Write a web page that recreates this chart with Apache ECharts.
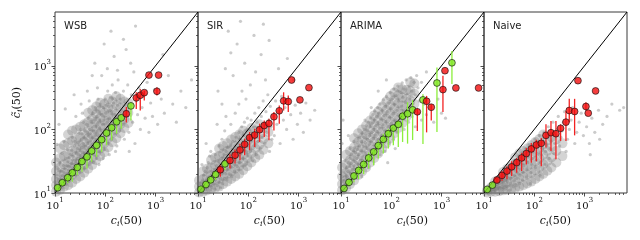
<!DOCTYPE html>
<html><head><meta charset="utf-8">
<script src="https://cdn.jsdelivr.net/npm/echarts@6/dist/echarts.min.js"></script>
<style>html,body{margin:0;padding:0;background:#fff}#c{width:640px;height:240px}</style>
</head><body><div id="c"></div>
<script>
// ---------- data ----------
const panelNames = ['WSB', 'SIR', 'ARIMA', 'Naive'];
const axisRange = [10, 7000];
const majorTicks = [10, 100, 1000];
const minorTicks = [20,30,40,50,60,70,80,90,200,300,400,500,600,700,800,900,2000,3000,4000,5000,6000];
const diagonal = [10, 7000];

// binned medians with error bars (1 = green, 0 = red)
const wsbX = [11.3,14.0,17.9,22.1,27.8,34.4,43.3,53.6,67.3,84.7,106,134,168,208,262,324,414,497,597,740,1067,1151];
const wsbY = [12.1,14.5,17.4,20.8,25.2,31.3,37.0,45.8,56.2,69.0,87.7,106,132,152,176,234,313,344,378,714,397,714];
const wsbLo = [11.0,12.9,14.2,15.0,19.1,21.5,24.3,30.9,37.0,44.3,56.2,67.3,85.5,102,128,138,210,198,284,null,340,null];
const wsbHi = [12.6,15.6,19.1,22.9,27.4,34.8,39.3,49.9,63.4,75.9,96.4,123,142,176,224,267,383,432,406,null,458,null];
const wsbGreen = [1,1,1,1,1,1,1,1,1,1,1,1,1,1,0,1,0,0,0,0,0,0];

const sirX = [11.5,14.4,17.9,22.4,27.8,34.4,43.3,54.5,68.4,84.7,106,134,168,208,258,324,414,505,625,728,1067,1611];
const sirY = [11.5,13.6,16.1,19.6,23.2,28.7,32.4,39.3,47.5,58.3,74.1,81.5,98.9,115,124,158,196,281,274,597,291,453];
const sirLo = [null,12.5,13.8,16.0,18.0,22.9,24.3,29.1,32.8,39.3,47.0,53.0,63.4,75.9,67.3,96.4,123,198,187,null,null,null];
const sirHi = [null,15.0,18.0,21.5,27.4,30.9,40.6,48.1,59.7,71.4,90.8,102,123,138,147,187,237,383,340,null,null,null];
const sirGreen = [1,1,1,1,0,1,0,0,0,0,0,0,0,0,0,0,0,0,0,0,0,0];

const arimaX = [11.5,14.4,18.1,22.4,28.2,35.5,44.7,55.2,69.5,87.3,110,138,168,211,266,330,427,505,625,811,1067,1170,1611,1932,5458];
const arimaY = [11.8,14.7,18.5,22.6,28.1,35.6,44.3,55.6,69.8,85.5,105,120,161,176,203,189,291,277,223,536,422,836,1114,448,448];
const arimaLo = [null,12.6,14.7,16.6,19.8,24.3,27.4,34.8,41.7,49.9,56.2,53.0,63.4,59.7,68.1,94.2,59.0,89.7,138,90.8,187,null,518,null,null];
const arimaHi = [null,16.0,21.0,26.7,32.8,43.2,49.9,67.3,85.5,102,116,138,187,267,287,215,356,336,249,942,698,null,1714,null,null];
const arimaGreen = [1,1,1,1,1,1,1,1,1,1,1,1,1,1,1,0,1,0,0,1,0,0,1,0,0];

const naiveX = [11.6,14.7,18.1,22.8,28.6,35.5,44.7,56.1,69.5,87.3,110,138,171,215,270,334,427,497,635,740,1067,1186,1660];
const naiveY = [11.4,13.3,16.0,18.9,22.1,25.8,30.1,35.6,41.7,49.3,56.9,60.4,80.5,88.7,85.5,104,130,198,191,583,229,180,402];
const naiveLo = [null,null,14.8,15.4,16.4,18.5,20.8,22.1,28.1,29.8,31.6,26.4,51.8,45.8,34.0,65.8,65.8,130,80.5,null,198,null,null];
const naiveHi = [null,null,17.4,22.1,26.4,31.6,35.6,42.7,51.1,61.1,69.0,73.3,120,135,135,120,195,302,302,null,267,null,null];
const naiveGreen = [1,1,0,0,0,0,0,0,0,0,0,0,0,0,0,0,0,0,0,0,0,0,0];

// grey cloud of individual regions: dense core, [c_i(50), c~_i(50)]
const wsbCore = [
[10.5,10.5],[10.5,13.2],[10.5,16.6],[10.5,21.9],[10.5,30.2],
[12.6,11.2],[12.6,14.5],[12.6,19.1],[12.6,25.1],[12.6,35.5],[12.6,50.1],
[15.1,12.6],[15.1,15.8],[15.1,20.9],[15.1,28.2],[15.1,38.0],[15.1,56.2],
[18.2,13.2],[18.2,17.4],[18.2,22.9],[18.2,30.2],[18.2,41.7],[18.2,60.3],[18.2,83.2],
[21.9,14.5],[21.9,19.1],[21.9,25.1],[21.9,33.1],[21.9,45.7],[21.9,66.1],[21.9,95.5],
[26.3,16.6],[26.3,21.9],[26.3,28.8],[26.3,38.0],[26.3,50.1],[26.3,69.2],[26.3,100],
[31.6,18.2],[31.6,24.0],[31.6,31.6],[31.6,41.7],[31.6,56.2],[31.6,75.9],[31.6,110],
[38.0,20.9],[38.0,27.5],[38.0,36.3],[38.0,47.9],[38.0,63.1],[38.0,85.1],[38.0,120],
[45.7,24.0],[45.7,31.6],[45.7,41.7],[45.7,55.0],[45.7,72.4],[45.7,95.5],[45.7,132],[45.7,182],
[55.0,27.5],[55.0,36.3],[55.0,47.9],[55.0,63.1],[55.0,83.2],[55.0,110],[55.0,145],[55.0,200],
[66.1,33.1],[66.1,43.7],[66.1,57.5],[66.1,75.9],[66.1,100],[66.1,132],[66.1,174],[66.1,229],
[79.4,38.0],[79.4,50.1],[79.4,66.1],[79.4,87.1],[79.4,115],[79.4,151],[79.4,200],[79.4,263],
[95.5,43.7],[95.5,60.3],[95.5,79.4],[95.5,105],[95.5,138],[95.5,182],[95.5,251],
[115,52.5],[115,72.4],[115,95.5],[115,126],[115,166],[115,219],[115,302],
[138,63.1],[138,87.1],[138,115],[138,151],[138,200],[138,275],
[166,72.4],[166,100],[166,132],[166,174],[166,240],[166,331],
[200,87.1],[200,120],[200,158],[200,219],[200,302],
[240,105],[240,145],[240,200],[240,275],
[288,126],[288,182],[288,263]
];
const sirCore = [
[10.5,10.2],[10.5,12.6],[10.5,15.8],
[12.6,10.5],[12.6,13.2],[12.6,16.6],[12.6,21.9],
[15.1,11.0],[15.1,13.8],[15.1,18.2],[15.1,24.0],
[18.2,11.5],[18.2,14.8],[18.2,19.1],[18.2,25.1],[18.2,33.1],
[21.9,12.0],[21.9,15.8],[21.9,20.9],[21.9,27.5],[21.9,36.3],
[26.3,12.6],[26.3,16.6],[26.3,21.9],[26.3,28.8],[26.3,38.0],[26.3,50.1],
[31.6,13.8],[31.6,18.2],[31.6,24.0],[31.6,31.6],[31.6,41.7],[31.6,55.0],
[38.0,15.1],[38.0,20.0],[38.0,26.3],[38.0,34.7],[38.0,45.7],[38.0,60.3],
[45.7,16.6],[45.7,21.9],[45.7,28.8],[45.7,38.0],[45.7,50.1],[45.7,69.2],
[55.0,18.2],[55.0,24.0],[55.0,31.6],[55.0,41.7],[55.0,55.0],[55.0,75.9],
[66.1,20.0],[66.1,26.3],[66.1,34.7],[66.1,45.7],[66.1,60.3],[66.1,83.2],
[79.4,22.9],[79.4,30.2],[79.4,39.8],[79.4,52.5],[79.4,69.2],[79.4,95.5],
[95.5,26.3],[95.5,35.5],[95.5,47.9],[95.5,63.1],[95.5,87.1],
[115,30.2],[115,41.7],[115,56.2],[115,75.9],[115,105],
[138,35.5],[138,50.1],[138,69.2],[138,95.5],
[166,39.8],[166,57.5],[166,83.2],[166,120],
[200,47.9],[200,70.8],[200,105],
[251,60.3],[251,91.2]
];
const arimaCore = [
[10.5,11.0],[10.5,13.8],[10.5,18.2],[10.5,25.1],
[12.6,12.0],[12.6,15.8],[12.6,20.9],[12.6,28.8],[12.6,39.8],
[15.1,13.8],[15.1,18.2],[15.1,24.0],[15.1,33.1],[15.1,45.7],
[18.2,15.8],[18.2,20.9],[18.2,27.5],[18.2,38.0],[18.2,52.5],[18.2,72.4],
[21.9,19.1],[21.9,25.1],[21.9,33.1],[21.9,45.7],[21.9,63.1],[21.9,87.1],
[26.3,21.9],[26.3,28.8],[26.3,38.9],[26.3,52.5],[26.3,72.4],[26.3,100],
[31.6,25.1],[31.6,33.9],[31.6,45.7],[31.6,61.7],[31.6,83.2],[31.6,115],
[38.0,30.2],[38.0,40.7],[38.0,55.0],[38.0,74.1],[38.0,100],[38.0,138],
[45.7,35.5],[45.7,47.9],[45.7,64.6],[45.7,87.1],[45.7,120],[45.7,166],
[55.0,41.7],[55.0,56.2],[55.0,75.9],[55.0,102],[55.0,138],[55.0,191],
[66.1,50.1],[66.1,67.6],[66.1,91.2],[66.1,123],[66.1,166],[66.1,229],
[79.4,60.3],[79.4,81.3],[79.4,110],[79.4,148],[79.4,200],[79.4,275],
[95.5,72.4],[95.5,97.7],[95.5,132],[95.5,178],[95.5,240],[95.5,331],
[115,87.1],[115,117],[115,158],[115,214],[115,288],[115,380],
[138,105],[138,141],[138,191],[138,257],[138,347],[138,457],
[166,126],[166,174],[166,234],[166,316],[166,427],
[200,158],[200,219],[200,302],[200,417],
[240,200],[240,282],[240,398],[240,550],
[288,251],[288,363],[288,525]
];
const naiveCore = [
[11.5,10.2],[11.5,11.0],
[13.8,10.5],[13.8,12.3],
[16.6,10.5],[16.6,12.6],[16.6,15.1],
[20.0,10.7],[20.0,13.2],[20.0,16.2],
[24.0,11.0],[24.0,13.8],[24.0,17.4],[24.0,21.4],
[28.8,11.2],[28.8,14.5],[28.8,18.6],[28.8,24.0],
[34.7,11.5],[34.7,15.1],[34.7,20.0],[34.7,26.3],
[41.7,12.0],[41.7,15.8],[41.7,21.4],[41.7,28.8],[41.7,36.3],
[50.1,12.6],[50.1,17.0],[50.1,22.9],[50.1,30.9],[50.1,41.7],
[60.3,13.2],[60.3,18.2],[60.3,24.5],[60.3,33.1],[60.3,45.7],
[72.4,14.1],[72.4,19.5],[72.4,26.3],[72.4,36.3],[72.4,50.1],
[87.1,15.1],[87.1,20.9],[87.1,28.8],[87.1,39.8],[87.1,56.2],
[105,16.6],[105,22.9],[105,31.6],[105,43.7],[105,63.1],
[126,18.2],[126,25.1],[126,35.5],[126,50.1],[126,70.8],
[151,20.0],[151,28.2],[151,39.8],[151,57.5],[151,83.2],
[182,22.4],[182,31.6],[182,45.7],[182,66.1],
[219,25.1],[219,36.3],[219,52.5],[219,75.9],
[275,30.2],[275,45.7],[275,69.2],
[363,38.0],[363,60.3]
];

// grey cloud: scattered individual regions, [c_i(50), c~_i(50)]
const wsbCloud = [
[10.3,10.5],[10.8,11.5],[11.2,10.4],[11.6,12.8],[10.5,13.5],[12.2,11.6],[12.5,14.2],[11.8,15.8],[13.2,13],[13.6,16.5],[12.8,18.5],[10.9,17],[14.5,14],[14.2,19],[13.5,22],[15.5,16.5],[15.2,21],[11.5,24],[16.5,18.5],[16,24],[14.8,27],[17.5,20.5],[17,27],[12.5,30],[18.5,23],[18,31],[16.2,35],[19.5,26],[13.8,42],[19,36],[11,58],[15,65],[17.5,48],[12,120],[16,210],[19.8,18.5],[18.6,15],[14,12],[16.8,13.5],[19,16.5],
[20.5,22],[21,29],[20,40],[22,25],[22.5,33],[21.5,47],[23.5,20],[24,28],[23,38],[24.5,55],[22,75],[25.5,31],[26,24],[26.5,42],[25,65],[27.5,35],[28,50],[27,29],[29,23],[29.5,40],[28.5,62],[30,85],[31,33],[31.5,46],[32,28],[30.5,57],[33,39],[33.5,70],[32.5,100],[34,52],[35,30],[35.5,44],[36,60],[34.5,85],[37,37],[37.5,75],[38,50],[36.5,130],[39,42],[39.5,95],[38.5,25],[26,160],[33,250],[24,350],[35,180],
[41,55],[42,70],[40.5,35],[43,45],[44,90],[42.5,120],[45,60],[46,38],[47,78],[45.5,150],[48,52],[49,100],[50,30],[51,66],[52,135],[50.5,85],[53,45],[54,58],[55,110],[56,75],[57,180],[58,40],[59,95],[60,62],[61,140],[62,50],[63,80],[64,220],[65,110],[66,70],[67,35],[68,160],[69,95],[70,58],[71,125],[72,300],[73,80],[74,45],[75,190],[76,105],[77,65],[78,140],[79,250],[44,400],[55,700],[62,1100],[48,280],[70,450],[58,30],[75,28],
[82,95],[84,60],[86,170],[88,120],[90,75],[92,220],[94,140],[96,48],[98,100],[100,300],[103,180],[106,85],[109,130],[112,400],[115,60],[118,230],[121,150],[124,100],[127,320],[130,70],[134,190],[138,500],[142,120],[146,260],[150,85],[155,170],[160,380],[165,130],[170,55],[175,240],[180,600],[186,160],[192,95],[198,300],[85,700],[95,2200],[110,900],[130,3500],[150,1400],[175,850],[120,40],[160,45],[90,35],[140,300],[105,240],[125,200],
[210,200],[220,120],[230,400],[240,70],[250,260],[265,160],[280,500],[295,90],[310,220],[330,350],[350,130],[370,800],[390,60],[410,280],[440,170],[470,450],[500,100],[540,220],[580,330],[620,150],[680,550],[740,90],[800,260],[870,160],[950,420],[260,1800],[320,1100],[230,2600],[400,4200],[300,45],
[1100,120],[1300,300],[1500,180],[1800,700],[2200,250],[2600,130],[3200,400],[4000,220],[5200,600],[1400,1500]
];
const sirCloud = [
[10.3,10.2],[10.8,11],[11.3,10.5],[11.8,12],[12,10.8],[12.6,11.5],[12.8,13.5],[13.4,12.2],[13.8,14.8],[14.2,11.2],[14.6,13],[15,16.5],[15.5,12],[16,14.5],[16.4,18],[16.8,11],[17.3,15.5],[17.8,13],[18.2,19],[18.6,16],[19.2,12],[19.6,21],[11,14],[12.4,16],[13,19],[14,22],[15.2,25],[16,30],[17,38],[12,28],[18,45],[14.5,60],
[20.3,14],[20.8,18],[21.4,23],[21.8,11.5],[22.4,16],[23,20],[23.5,27],[24,13],[24.6,18],[25.2,24],[25.8,31],[26.3,15],[27,21],[27.5,28],[28,12],[28.6,17],[29.2,25],[29.8,35],[30.5,20],[31,14],[31.6,29],[32.2,23],[33,40],[33.6,17],[34.2,26],[35,32],[35.6,20],[36.2,45],[37,28],[37.6,16],[38.2,36],[39,24],[39.6,52],[22,40],[26,55],[30,70],[34,95],[24,120],[36,160],
[41,30],[42,20],[43,40],[44,55],[45,26],[46,35],[47,18],[48,48],[49,65],[50,30],[51.5,40],[53,22],[54.5,55],[56,33],[57.5,75],[59,45],[60.5,26],[62,60],[63.5,38],[65,90],[66.5,50],[68,30],[70,70],[72,42],[74,110],[76,55],[78,35],[80,80],[82,48],[84,130],[86,62],[88,28],[90,95],[92,45],[94,70],[96,150],[98,38],[45,120],[55,180],[65,250],[75,400],[50,700],[85,1100],[60,2200],[40,3500],[70,5000],[90,300],
[103,60],[106,100],[110,45],[114,140],[118,75],[122,32],[126,110],[130,55],[135,180],[140,85],[145,40],[150,130],[156,65],[162,220],[168,95],[175,50],[182,160],[190,75],[198,280],[206,120],[215,60],[225,190],[235,90],[245,350],[255,140],[265,45],[275,230],[285,110],[295,70],[110,500],[140,800],[180,1500],[220,600],[260,2500],[130,3000],[200,4500],
[310,160],[330,80],[350,280],[370,120],[400,190],[430,60],[460,330],[500,140],[540,220],[580,100],[640,300],[700,170],[780,70],[860,240],[950,120],[1100,180],[1250,90],[1400,260],[1700,140],[2100,200],[400,900],[600,1300],[800,600],[25,400],[35,900],[45,1600],[30,250]
];
const arimaCloud = [
[10.3,11],[10.6,13],[11,15],[10.8,18],[11.4,12],[11.8,16],[12,21],[12.3,14],[12.7,19],[13,25],[13.3,17],[13.7,22],[14,30],[14.4,16],[14.8,26],[15.2,35],[15.6,20],[16,29],[16.4,40],[16.8,23],[17.2,33],[17.6,46],[18,27],[18.4,38],[18.8,52],[19.2,31],[19.6,43],[12,32],[15,50],[18,65],[10.5,60],[11,140],[14,80],
[20.5,35],[21,48],[21.5,62],[22,28],[22.6,40],[23.2,55],[23.8,75],[24.4,33],[25,46],[25.6,64],[26.2,88],[27,38],[27.6,54],[28.2,75],[29,100],[29.8,44],[30.5,62],[31.2,85],[32,115],[33,50],[33.8,70],[34.6,95],[35.5,130],[36.4,57],[37.3,80],[38.2,110],[39,150],[40,64],[41,90],[42,125],[43,170],[44,72],[45,100],[46,140],[47,195],[48,82],[49,115],[26,18],[35,25],[45,35],[30,140],[40,220],
[51,160],[52,92],[53,220],[54,128],[55,70],[56,180],[58,105],[60,250],[62,145],[64,80],[66,200],[68,118],[70,290],[72,165],[74,95],[76,230],[78,135],[80,330],[83,190],[86,110],[89,260],[92,155],[95,380],[98,215],[101,125],[104,300],[108,175],[112,430],[116,245],[120,140],[125,340],[130,200],[135,480],[140,280],[145,160],[60,40],[75,45],[90,60],[110,70],[130,90],[85,30],[120,50],[55,400],[80,600],
[155,380],[160,230],[165,540],[170,320],[175,190],[182,430],[190,270],[198,600],[206,360],[215,220],[225,480],[235,300],[245,650],[258,400],[270,250],[285,550],[300,350],[320,700],[340,450],[360,280],[180,100],[220,130],[260,160],[300,110],[350,180],[400,140],[450,250],[500,170],[600,220],[700,130],[850,300],[1000,180],[1200,150],[400,550],[500,800]
];
const naiveCloud = [
[10.5,10.2],[11,10.6],[11.5,10.3],[12,11.2],[12.5,10.5],[13,12],[13.5,10.8],[14,12.8],[14.5,11.3],[15,13.8],[15.5,10.6],[16,12.3],[16.5,14.6],[17,11],[17.5,13],[18,15.5],[18.5,11.8],[19,14],[19.5,16.5],[13,11.5],[16,11.2],[19,12.5],
[20.5,12.2],[21,15],[21.5,18],[22,11],[22.5,13.5],[23,16.5],[23.5,20],[24,12],[24.5,14.8],[25,18],[25.5,22],[26,11.5],[26.5,13.5],[27,16],[27.5,19.5],[28,24],[28.5,12.5],[29,15],[29.5,18],[30,21],[31,26],[32,11],[33,14],[34,17],[35,20],[36,24],[37,29],[38,12.5],[39,15.5],[40,19],[41,23],[42,27],[43,33],[44,13],[45,17],[46,21],[47,25],[48,30],[49,38],
[51,14],[52,19],[53,24],[54,29],[55,35],[57,43],[58,16],[60,21],[62,27],[64,33],[66,40],[68,50],[70,18],[72,24],[74,30],[76,37],[78,45],[80,58],[83,14],[86,21],[89,28],[92,35],[95,44],[98,55],[101,70],[105,25],[109,33],[113,42],[117,52],[121,65],[125,80],[130,19],[135,30],[140,40],[145,50],[150,62],
[156,90],[162,28],[168,45],[175,58],[182,75],[190,110],[198,35],[206,50],[215,65],[225,85],[235,130],[245,42],[258,60],[270,80],[285,100],[300,160],[320,55],[340,75],[360,95],[380,130],[400,190],[430,45],[460,70],[500,100],[540,140],[580,220],[640,60],[700,90],[780,130],[860,180],[950,80],
[1100,110],[1250,60],[1400,150],[1600,90],[1900,200],[2300,120],[2800,160],[3500,250],[5000,200],[1300,40],[2000,70],[6000,220]
];

// ---------- build ----------
const L = Math.log10;
const panels = [
  {core: wsbCore, cloud: wsbCloud, x: wsbX, y: wsbY, lo: wsbLo, hi: wsbHi, g: wsbGreen},
  {core: sirCore, cloud: sirCloud, x: sirX, y: sirY, lo: sirLo, hi: sirHi, g: sirGreen},
  {core: arimaCore, cloud: arimaCloud, x: arimaX, y: arimaY, lo: arimaLo, hi: arimaHi, g: arimaGreen},
  {core: naiveCore, cloud: naiveCloud, x: naiveX, y: naiveY, lo: naiveLo, hi: naiveHi, g: naiveGreen}
];
const lefts = [55, 198, 341, 484];
const W = 143, TOP = 12, H = 181;
const serif = 'DejaVu Serif';
const GREEN = '#80e620', RED = '#f20c0c', GREEN_BAR = '#8cee3c', RED_BAR = '#f22222';
const tickRich = {
  b: {fontFamily: serif, fontSize: 10, lineHeight: 14, verticalAlign: 'bottom', color: '#111'},
  s: {fontFamily: serif, fontSize: 7, lineHeight: 9, verticalAlign: 'top', color: '#111'}
};
const nameRich = {
  it: {fontFamily: serif, fontStyle: 'italic', fontSize: 11, lineHeight: 14, color: '#111'},
  sub: {fontFamily: serif, fontStyle: 'italic', fontSize: 8, lineHeight: 8, verticalAlign: 'bottom', color: '#111'},
  n: {fontFamily: serif, fontSize: 11, lineHeight: 14, color: '#111'}
};
const majorL = majorTicks.map(L), minorL = minorTicks.map(L);
const lmin = L(axisRange[0]), lmax = L(axisRange[1]);
const fmt = v => '{b|10}{s|' + Math.round(v) + '}';

const grid = [], xAxis = [], yAxis = [], series = [], title = [];
panels.forEach((p, i) => {
  grid.push({left: lefts[i], top: TOP, width: W, height: H, show: true, borderColor: '#3a3a3a', borderWidth: 1, backgroundColor: 'rgba(0,0,0,0)', outerBoundsMode: 'none'});
  title.push({text: panelNames[i], left: lefts[i] + 9, top: 21, padding: 0,
    textStyle: {fontFamily: 'DejaVu Sans', fontSize: 10, fontWeight: 'normal', color: '#222'}});
  xAxis.push({type: 'value', gridIndex: i, min: lmin, max: lmax, position: 'bottom',
    axisLine: {show: false}, splitLine: {show: false},
    axisTick: {show: true, inside: false, length: 3.5, customValues: majorL, lineStyle: {color: '#222', width: 0.8}},
    axisLabel: {show: true, customValues: majorL, formatter: fmt, rich: tickRich, margin: 4},
    name: '{it|c}{sub|i}{n|(50)}', nameLocation: 'middle', nameGap: 20, nameTextStyle: {rich: nameRich}});
  yAxis.push({type: 'value', gridIndex: i, min: lmin, max: lmax, position: 'left',
    axisLine: {show: false}, splitLine: {show: false},
    axisTick: {show: true, inside: false, length: 3.5, customValues: majorL, lineStyle: {color: '#222', width: 0.8}},
    axisLabel: {show: i === 0, customValues: majorL, formatter: fmt, rich: tickRich, margin: 4},
    name: i === 0 ? '{it|c\u0303}{sub|i}{n|(50)}' : '', nameLocation: 'middle', nameGap: 31, nameTextStyle: {rich: nameRich}});

  series.push({type: 'scatter', xAxisIndex: i, yAxisIndex: i, silent: true, symbolSize: 10,
    itemStyle: {color: '#737373', opacity: 0.31}, data: p.core.map(d => [L(d[0]), L(d[1])]), z: 1});
  series.push({type: 'scatter', xAxisIndex: i, yAxisIndex: i, silent: true, symbolSize: 3.2,
    itemStyle: {color: '#7c7c7c', opacity: 0.4}, data: p.cloud.map(d => [L(d[0]), L(d[1])]), z: 1});
  series.push({type: 'line', xAxisIndex: i, yAxisIndex: i, silent: true, symbol: 'none',
    lineStyle: {color: '#000', width: 1}, data: diagonal.map(v => [L(v), L(v)]), z: 2});
  const bars = [];
  p.x.forEach((x, k) => { if (p.lo[k] != null) bars.push([L(x), L(p.lo[k]), L(p.hi[k]), p.g[k]]); });
  series.push({type: 'custom', xAxisIndex: i, yAxisIndex: i, silent: true, z: 3, data: bars,
    renderItem: (params, api) => {
      const a = api.coord([api.value(0), api.value(1)]), b = api.coord([api.value(0), api.value(2)]);
      return {type: 'line', shape: {x1: a[0], y1: a[1], x2: b[0], y2: b[1]},
        style: {stroke: api.value(3) ? GREEN_BAR : RED_BAR, lineWidth: 1.3}};
    }});
  series.push({type: 'scatter', xAxisIndex: i, yAxisIndex: i, silent: true, z: 4, symbolSize: 6.8,
    itemStyle: {color: prm => prm.data[2] ? GREEN : RED, borderColor: '#111', borderWidth: 0.8},
    data: p.x.map((x, k) => [L(x), L(p.y[k]), p.g[k]])});
});
// minor-tick overlay grids
panels.forEach((p, i) => {
  grid.push({left: lefts[i], top: TOP, width: W, height: H, show: false, outerBoundsMode: 'none'});
  xAxis.push({type: 'value', gridIndex: 4 + i, min: lmin, max: lmax, position: 'bottom',
    axisLine: {show: false}, splitLine: {show: false}, axisLabel: {show: false},
    axisTick: {show: true, inside: false, length: 2, customValues: minorL, lineStyle: {color: '#222', width: 0.7}}});
  yAxis.push({type: 'value', gridIndex: 4 + i, min: lmin, max: lmax, position: 'left',
    axisLine: {show: false}, splitLine: {show: false}, axisLabel: {show: false},
    axisTick: {show: true, inside: false, length: 2, customValues: minorL, lineStyle: {color: '#222', width: 0.7}}});
});

const chart = echarts.init(document.getElementById('c'), null, {renderer: 'canvas'});
chart.setOption({animation: false, backgroundColor: '#fff', title, grid, xAxis, yAxis, series});
</script></body></html>
